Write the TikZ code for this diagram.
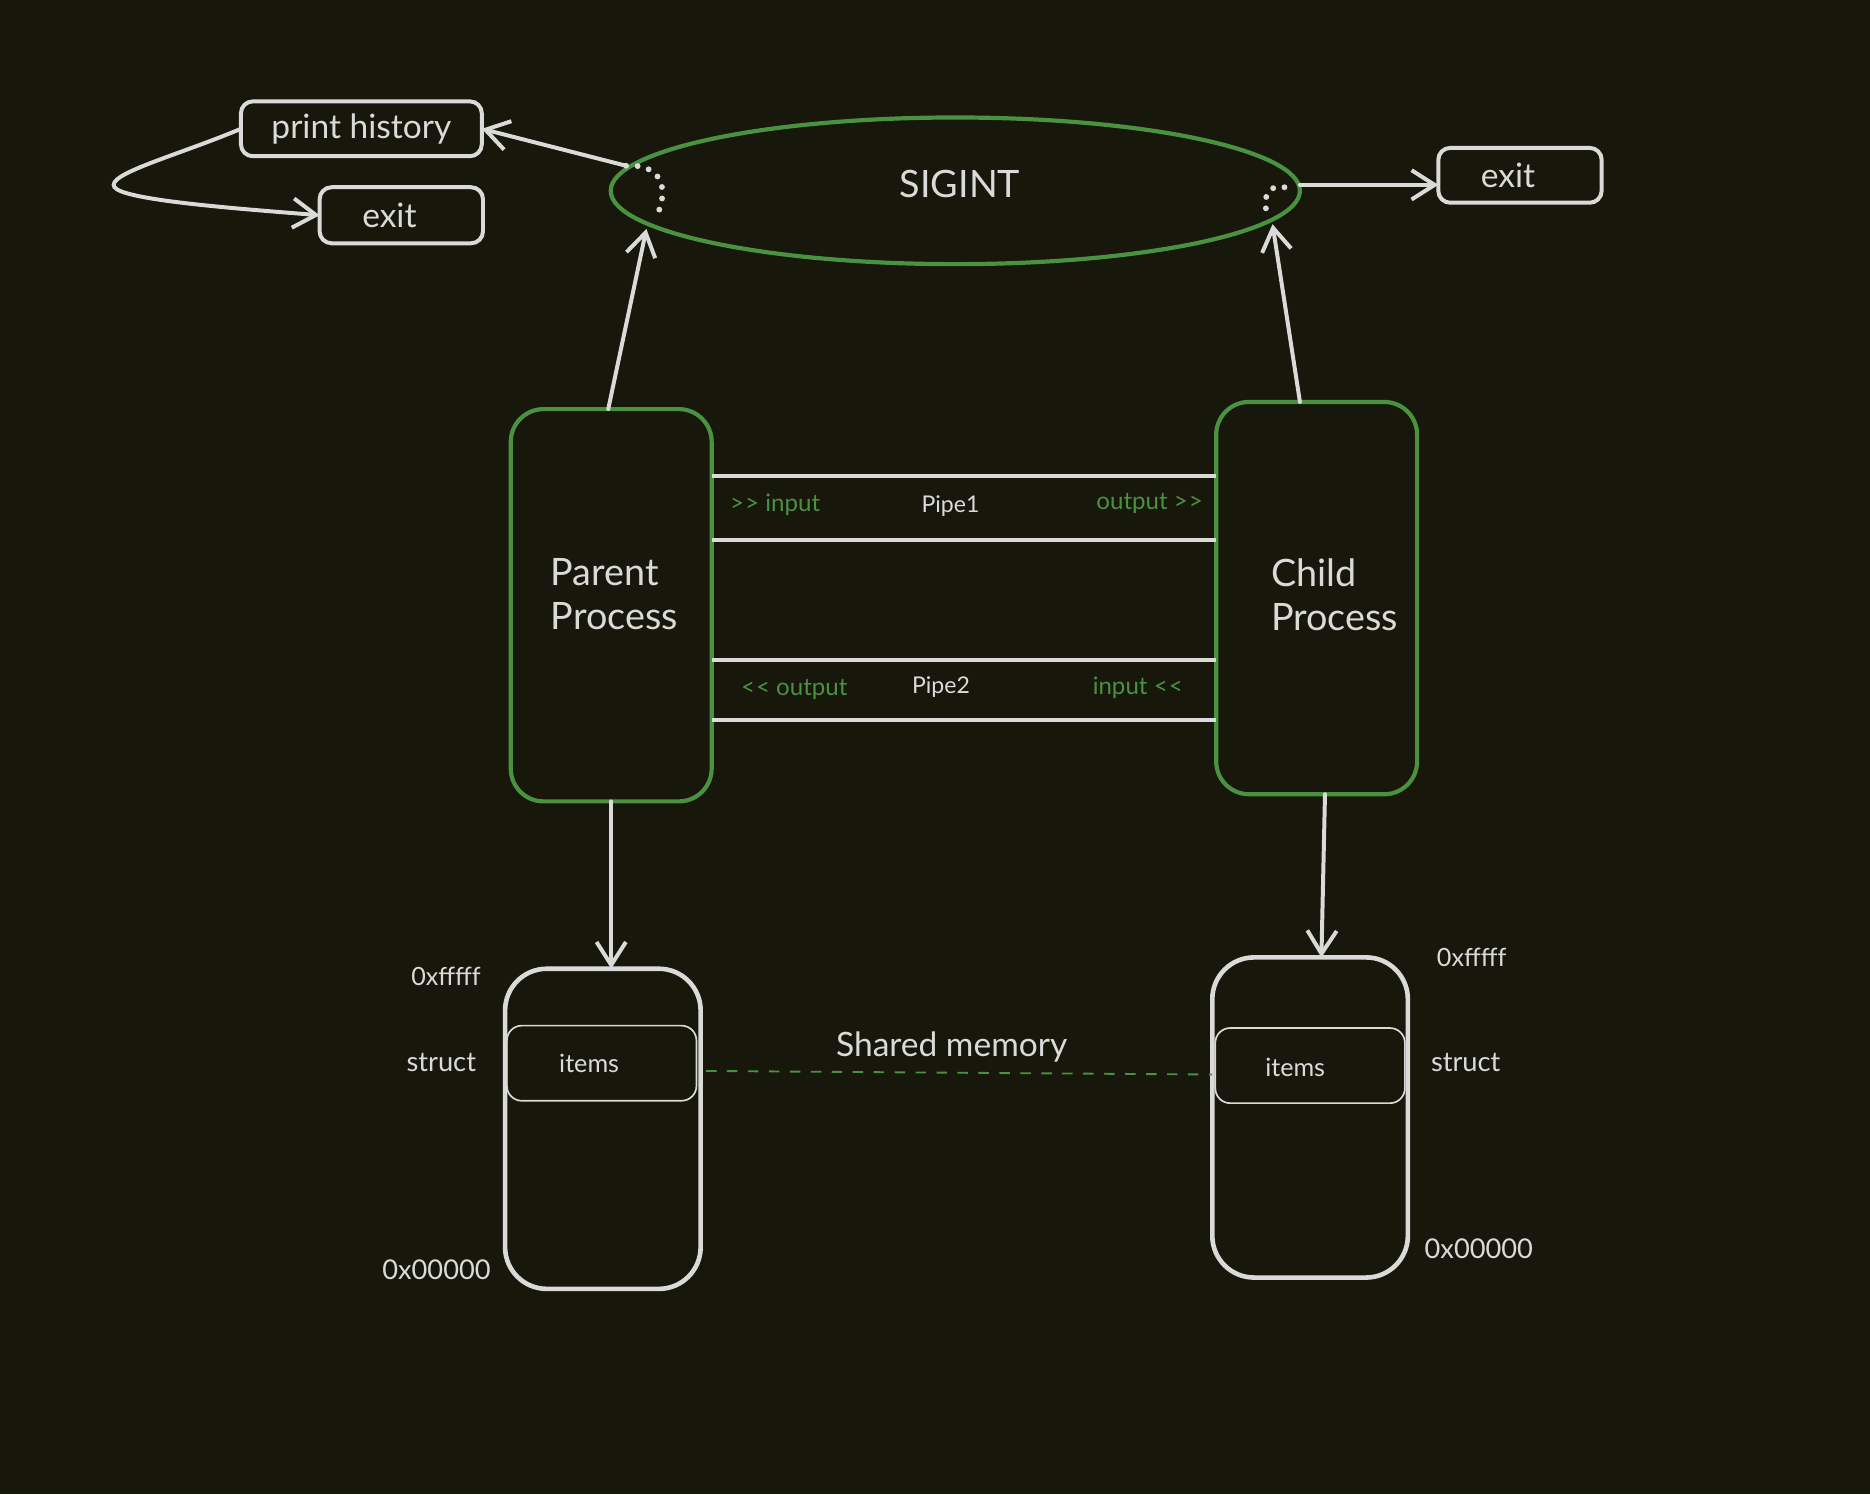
\documentclass[tikz,border=0pt]{standalone}
\usepackage{fontspec}
\setmainfont{Lato}
\usetikzlibrary{arrows.meta,shapes.geometric,calc}
\definecolor{bg}{RGB}{24,23,11}
\definecolor{grn}{RGB}{74,145,64}
\definecolor{lg}{RGB}{218,218,216}
\newcommand\gtgt{>\kern0.5pt>}
\newcommand\ltlt{<\kern0.5pt<}
\begin{document}
\begin{tikzpicture}[x=0.02cm,y=-0.02cm,
  box/.style={draw=lg,line width=1.9pt,rounded corners=0.2cm,inner sep=0pt,outer sep=0pt,text=lg,font=\fontsize{16}{18}\selectfont},
  proc/.style={draw=grn,line width=2pt,rounded corners=0.55cm,inner sep=0pt,outer sep=0pt,minimum width=3.37cm,minimum height=6.58cm},
  mem/.style={draw=lg,line width=2.2pt,rounded corners=0.7cm,inner sep=0pt,outer sep=0pt,minimum width=3.28cm,minimum height=5.37cm},
  itm/.style={draw=lg,line width=0.8pt,rounded corners=0.25cm,inner sep=0pt,outer sep=0pt,minimum width=3.18cm,minimum height=1.26cm},
  txt/.style={text=lg,inner sep=0pt},
  gtxt/.style={text=grn,inner sep=0pt,font=\fontsize{11.5}{13}\selectfont},
  arr/.style={draw=lg,line width=1.9pt,line cap=round,-{Straight Barb[length=11pt,width=14pt,line width=1.9pt]}},
  pipe/.style={draw=lg,line width=1.9pt},
  dots/.style={draw=lg,line width=2.8pt,line cap=round,dash pattern=on 0pt off 5.5pt}]
\fill[bg] (0,0) rectangle (1568,1253);
\useasboundingbox (0,0) rectangle (1568,1253);

% SIGINT
\node[draw=grn,line width=2pt,ellipse,minimum width=11.56cm,minimum height=2.46cm,inner sep=0pt,outer sep=0pt] (sig) at (801,160) {};
\node[txt,font=\fontsize{18}{20}\selectfont] (sigT) at (805,154) {SIGINT};
\coordinate (sigUL) at (525,139);
\coordinate (sigBL) at (542,192);
\coordinate (sigBR) at (1067,188);
\draw[dots] (sigUL) .. controls (560,137) and (560,165) .. (549,184);
\draw[dots] (1077,157) .. controls (1062,154) and (1058,168) .. (1063,180);

% top boxes
\node[box,minimum width=4.04cm,minimum height=0.92cm] (print) at (303,108) {print history};
\node[box,minimum width=2.74cm,minimum height=0.94cm] (exitL) at (336.5,180.5) {\hspace*{-0.4cm}exit};
\node[box,minimum width=2.74cm,minimum height=0.92cm] (exitR) at (1274.5,147) {\hspace*{-0.4cm}exit};

\draw[arr] (sigUL) -- (print.east);
\draw[arr] (print.west) .. controls (150,130) and (88,146) .. (96,157) .. controls (104,168) and (200,175) .. (exitL.west);
\draw[arr] (sig.east |- 0,155) -- (exitR.west |- 0,155);

% processes
\node[proc] (parent) at (512.5,507.5) {};
\node[proc] (child) at (1104,501.5) {};
\node[txt,align=left,font=\fontsize{18}{21}\selectfont] (parentT) at (515,498) {Parent\\Process};
\node[txt,align=left,font=\fontsize{18}{21}\selectfont] (childT) at (1119,499) {Child\\Process};

\draw[arr] (510,0 |- parent.north) -- (sigBL);
\draw[arr] (1090,0 |- child.north) -- (sigBR);

% pipes
\draw[pipe] (parent.east |- 0,399) -- (child.west |- 0,399);
\draw[pipe] (parent.east |- 0,453) -- (child.west |- 0,453);
\draw[pipe] (parent.east |- 0,553) -- (child.west |- 0,553);
\draw[pipe] (parent.east |- 0,604) -- (child.west |- 0,604);
\node[gtxt] (p1in) at (650,423) {\gtgt\ input};
\node[txt,font=\fontsize{11}{13}\selectfont] (p1) at (797,424) {Pipe1};
\node[gtxt] (p1out) at (964,422) {output \gtgt};
\node[gtxt] (p2out) at (666,578) {\ltlt\ output};
\node[txt,font=\fontsize{11}{13}\selectfont] (p2) at (789,576) {Pipe2};
\node[gtxt] (p2in) at (954,577) {input \ltlt};

% memory
\node[mem] (memL) at (505.5,946.5) {};
\node[mem] (memR) at (1098.5,937) {};
\node[itm] (itemsL) at (504.5,891.5) {};
\node[itm] (itemsR) at (1098.5,893.5) {};
\node[txt,font=\fontsize{12}{14}\selectfont] (itL) at (494,892) {items};
\node[txt,font=\fontsize{12}{14}\selectfont] (itR) at (1086,895) {items};

\draw[arr] (parent.south) -- (parent.south |- memL.north);
\draw[arr] (1111,0 |- child.south) -- (1108,0 |- memR.north);

\draw[grn,line width=0.9pt,dash pattern=on 5pt off 5pt] (592,898) -- (memR.west |- 0,901);
\node[txt,font=\fontsize{16}{18}\selectfont] (shm) at (798,878) {Shared memory};

\node[txt,font=\fontsize{12}{14}\selectfont] (ffL) at (374,819) {0xfffff};
\node[txt,font=\fontsize{13}{15}\selectfont] (stL) at (370,891) {struct};
\node[txt,font=\fontsize{13}{15}\selectfont] (zzL) at (366,1065) {0x00000};
\node[txt,font=\fontsize{12}{14}\selectfont] (ffR) at (1234,803) {0xfffff};
\node[txt,font=\fontsize{13}{15}\selectfont] (stR) at (1229,891) {struct};
\node[txt,font=\fontsize{13}{15}\selectfont] (zzR) at (1240,1047) {0x00000};
\end{tikzpicture}
\end{document}
